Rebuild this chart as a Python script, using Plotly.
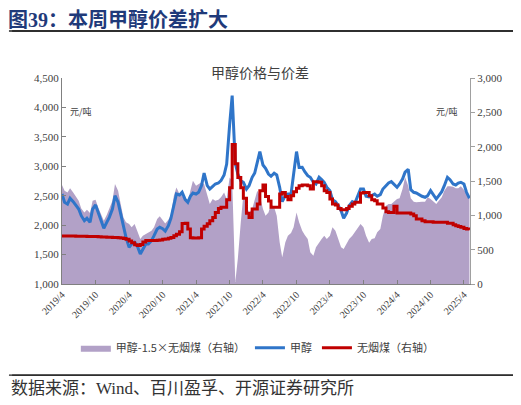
import plotly.graph_objects as go
import pandas as pd

# semi-monthly samples, 2019-04-01 .. 2025-05-01
dates = pd.date_range('2019-04-01', '2025-05-01', freq='SMS')

methanol = [
    2529, 2388, 2359, 2456, 2399, 2331, 2274, 2161, 2076, 2116, 2048, 2274,
    2342, 2218, 2048, 1946, 2048, 2133, 2274, 2501, 2388, 2189, 2019, 1792,
    1623, 1679, 1708, 1651, 1509, 1594, 1679, 1679, 1736, 1821, 1934, 1963,
    1940, 1900, 1991, 2116, 2331, 2529, 2512, 2558, 2433, 2388, 2490, 2546,
    2529, 2558, 2671, 2886, 2671, 2614, 2660, 2699, 2716, 2756, 2852, 3039,
    3700, 4200, 3050, 2869, 2756, 2728, 2614, 2671, 2813, 2886, 3068, 3250,
    3022, 2966, 2869, 2830, 2881, 2852, 2643, 2399, 2501, 2529, 2529, 2841,
    3250, 2980, 2983, 2909, 2841, 2813, 2728, 2699, 2813, 2773, 2728, 2643,
    2586, 2433, 2399, 2342, 2246, 2116, 2206, 2331, 2399, 2371, 2490, 2614,
    2614, 2490, 2480, 2501, 2529, 2490, 2518, 2614, 2671, 2716, 2739, 2699,
    2643, 2699, 2784, 2900, 2950, 2603, 2558, 2546, 2512, 2490, 2473, 2501,
    2586, 2529, 2444, 2501, 2569, 2671, 2813, 2773, 2699, 2682, 2716, 2728,
    2699, 2558, 2456,
]

spread = [
    1441, 1359, 1334, 1393, 1334, 1276, 1213, 1101, 1043, 1082, 1033, 1213,
    1228, 1116, 995, 922, 1004, 1092, 1213, 1456, 1359, 1165, 970, 898,
    873, 825, 873, 776, 655, 704, 728, 752, 776, 825, 946, 985,
    930, 880, 937, 1004, 1286, 1407, 1310, 1286, 1213, 1189, 1359, 1504,
    1431, 1456, 1480, 1456, 1310, 1165, 1237, 1213, 1228, 1262, 1334, 1237,
    1550, 1500, 30, 370, 900, 1300, 1140, 1043, 1092, 1237, 1359, 1286,
    1092, 995, 1040, 1165, 1116, 995, 607, 388, 607, 704, 742, 825,
    1043, 898, 776, 713, 655, 461, 412, 534, 607, 655, 704, 655,
    704, 825, 776, 655, 534, 510, 582, 655, 704, 752, 825, 873,
    825, 704, 600, 655, 665, 752, 801, 995, 1140, 1165, 1165, 1199,
    1237, 1247, 1383, 1553, 1431, 1247, 1199, 1189, 1199, 1199, 1199, 1262,
    1237, 1199, 1165, 1213, 1262, 1359, 1422, 1422, 1417, 1393, 1393, 1422,
    1373, 1310, 1262,
]

anthracite = [
    700, 700, 700, 698, 698, 696, 696, 695, 694, 693, 692, 690,
    690, 688, 686, 684, 682, 680, 678, 676, 674, 670, 662, 650,
    625, 600, 570, 560, 575, 610, 632, 634, 634, 634, 636, 640,
    650, 655, 665, 679, 704, 723, 762, 880, 883, 801, 674, 670,
    670, 674, 801, 840, 878, 922, 970, 1043, 1101, 1116, 1116, 1228,
    1400, 2030, 1750, 1550, 1400, 1250, 1030, 970, 1092, 1092, 1165, 1359,
    1441, 1276, 1210, 1116, 1116, 1116, 1310, 1334, 1276, 1228, 1286, 1344,
    1393, 1431, 1441, 1441, 1431, 1383, 1490, 1490, 1480, 1431, 1359, 1334,
    1237, 1165, 1150, 1101, 1082, 1082, 1101, 1131, 1165, 1189, 1189, 1325,
    1334, 1334, 1286, 1228, 1213, 1165, 1165, 1106, 1053, 1043, 1043, 1131,
    1034, 1034, 1034, 1034, 1034, 1019, 995, 946, 946, 922, 907, 907,
    907, 898, 898, 898, 898, 898, 883, 883, 864, 849, 839, 825,
    810, 801, 791,
]

tick_dates = ['2019-04-01', '2019-10-01', '2020-04-01', '2020-10-01', '2021-04-01',
              '2021-10-01', '2022-04-01', '2022-10-01', '2023-04-01', '2023-10-01',
              '2024-04-01', '2024-10-01', '2025-04-01']
tick_labels = ['2019/4', '2019/10', '2020/4', '2020/10', '2021/4', '2021/10', '2022/4',
               '2022/10', '2023/4', '2023/10', '2024/4', '2024/10', '2025/4']

SERIF = 'Liberation Serif, Noto Sans CJK SC'
CJK = 'Noto Sans CJK SC'

fig = go.Figure()
fig.add_trace(go.Scatter(
    name='甲醇-1.5×无烟煤（右轴）', x=dates, y=spread, yaxis='y',
    mode='lines', fill='tozeroy', fillcolor='#B2A1C7',
    line=dict(width=0, color='#B2A1C7')))
fig.add_trace(go.Scatter(
    name='甲醇', x=dates, y=methanol, yaxis='y2',
    mode='lines', line=dict(color='#2F75C9', width=3)))
fig.add_trace(go.Scatter(
    name='无烟煤（右轴）', x=dates, y=anthracite, yaxis='y3',
    mode='lines', line=dict(color='#C00000', width=3, shape='hv')))

axis_font = dict(family=SERIF, size=11, color='#404040')
# page body keeps its default 8px margin, so the figure is 8px smaller each way
fig.update_layout(
    width=513, height=397,
    margin=dict(l=54, r=51, t=70, b=121),
    paper_bgcolor='white', plot_bgcolor='white',
    font=dict(family=SERIF, color='#404040'),
    title=dict(text='<b>图39：本周甲醇价差扩大</b>', xref='container', yref='container',
               x=0.0, y=0.971, xanchor='left', yanchor='middle',
               font=dict(family=SERIF, size=20, color='#1F3A7A')),
    xaxis=dict(range=['2019-04-01', '2025-05-04'], tickvals=tick_dates, ticktext=tick_labels,
               tickangle=-45, ticks='inside', ticklen=4, tickcolor='#808080',
               showline=True, linecolor='#808080', linewidth=1, showgrid=False,
               zeroline=False, tickfont=dict(family=SERIF, size=10, color='#404040')),
    yaxis=dict(range=[0, 3000], dtick=500, tickformat=',', side='right',
               ticks='outside', ticklen=4, tickcolor='#A0A0A0',
               showline=True, linecolor='#A0A0A0', linewidth=1, showgrid=False,
               zeroline=False, tickfont=axis_font),
    yaxis2=dict(range=[1000, 4500], dtick=500, tickformat=',', side='left',
                overlaying='y', ticks='inside', ticklen=4, tickcolor='#808080',
                showline=True, linecolor='#808080', linewidth=1, showgrid=False,
                zeroline=False, tickfont=axis_font),
    yaxis3=dict(range=[0, 3000], overlaying='y', side='right', visible=False),
    legend=dict(orientation='h', x=0.48, y=-0.31, xanchor='center', yanchor='middle',
                font=dict(family=CJK, size=11, color='#404040'), itemwidth=30,
                traceorder='normal'),
    showlegend=True,
)

# rule lines under the heading and above the source note
for rule_y, rule_w in [(1.228, 1.5), (-0.442, 1.2)]:
    fig.add_shape(type='line', xref='paper', yref='paper', x0=-0.13, x1=1.113,
                  y0=rule_y, y1=rule_y, layer='above',
                  line=dict(color='#222222', width=rule_w))
    fig.add_annotation(text=' ', xref='paper', yref='paper', x=1.113, y=rule_y,
                       ax=-507, ay=0, showarrow=True, arrowhead=0, arrowwidth=rule_w,
                       arrowcolor='#222222', standoff=0, startstandoff=0)

fig.add_annotation(text='甲醇价格与价差', xref='paper', yref='paper', x=0.485, y=1.087,
                   showarrow=False, font=dict(family=CJK, size=14, color='#404040'))
fig.add_annotation(text='元/吨', xref='paper', yref='paper', x=0.015, y=0.88,
                   xanchor='left', showarrow=False, font=dict(family=CJK, size=9, color='#404040'))
fig.add_annotation(text='元/吨', xref='paper', yref='paper', x=0.975, y=0.88,
                   xanchor='right', showarrow=False, font=dict(family=CJK, size=9, color='#404040'))
fig.add_annotation(text='数据来源：Wind、百川盈孚、开源证券研究所', xref='paper', yref='paper',
                   x=-0.13, y=-0.505, xanchor='left', yanchor='middle', showarrow=False,
                   font=dict(family=SERIF, size=17, color='#333333'))

fig.write_html('out.html', config={'displayModeBar': False})
